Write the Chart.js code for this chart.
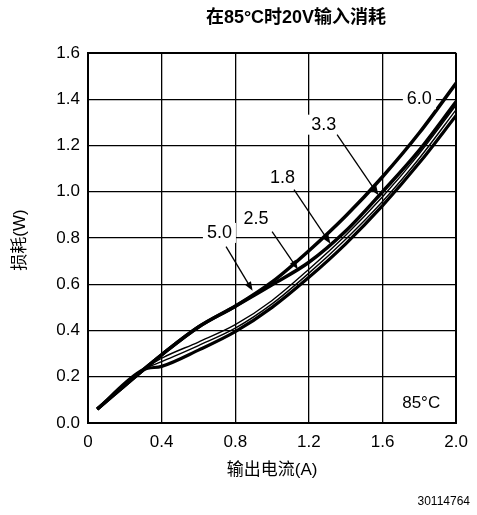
<!DOCTYPE html>
<html>
<head>
<meta charset="utf-8">
<script src="https://cdn.jsdelivr.net/npm/chart.js@4"></script>
<style>
    body { margin: 0; background: #fff; }
    #wrap { width: 477px; height: 515px; position: relative; }
</style>
</head>
<body>
<div id="wrap"><canvas id="lossChart"></canvas></div>
<script>
// --- Data ---
const currentA = [0.05, 0.3, 0.4, 0.6, 0.8, 1.0, 1.2, 1.4, 1.6, 1.8, 2.0];
const loss60 = [0.06, 0.23, 0.295, 0.415, 0.505, 0.61, 0.745, 0.895, 1.065, 1.255, 1.47];
const loss50 = [0.06, 0.23, 0.295, 0.415, 0.505, 0.598, 0.695, 0.83, 1.0, 1.18, 1.39];
const loss33 = [0.06, 0.23, 0.28, 0.35, 0.425, 0.53, 0.665, 0.812, 0.978, 1.165, 1.375];
const loss25 = [0.06, 0.23, 0.265, 0.335, 0.41, 0.515, 0.648, 0.795, 0.958, 1.145, 1.355];
const loss18 = [0.06, 0.23, 0.245, 0.315, 0.395, 0.50, 0.63, 0.775, 0.94, 1.125, 1.33];
const seriesNames = ['6.0', '5.0', '3.3', '2.5', '1.8'];
const xTicks = [0, 0.4, 0.8, 1.2, 1.6, 2.0];
const yTicks = [0, 0.2, 0.4, 0.6, 0.8, 1.0, 1.2, 1.4, 1.6];

const titleText = '在85°C时20V输入消耗';
const xTitle = '输出电流(A)';
const yTitle = '损耗(W)';
const tempNote = '85°C';
const footNote = '30114764';

// callouts: label, text centre, leader start, arrow tip (data units)
const callouts = [
    { text: '6.0', at: [1.80, 1.40] },
    { text: '3.3', at: [1.281, 1.29], from: [1.353, 1.247], tip: [1.578, 0.985] },
    { text: '1.8', at: [1.056, 1.06], from: [1.119, 1.009], tip: [1.317, 0.775] },
    { text: '2.5', at: [0.912, 0.88], from: [1.0, 0.828], tip: [1.14, 0.665] },
    { text: '5.0', at: [0.714, 0.822], from: [0.75, 0.763], tip: [0.894, 0.572] }
];

const LATIN = '"Liberation Sans", Arial, "Noto Sans CJK SC", sans-serif';

function toPoints(ys) {
    return currentA.map((x, i) => ({ x: x, y: ys[i] }));
}

function drawArrow(ctx, x1, y1, x2, y2) {
    const ang = Math.atan2(y2 - y1, x2 - x1);
    const len = 9, half = 3.5;
    ctx.beginPath();
    ctx.moveTo(x1, y1);
    ctx.lineTo(x2 - Math.cos(ang) * len * 0.8, y2 - Math.sin(ang) * len * 0.8);
    ctx.stroke();
    ctx.beginPath();
    ctx.moveTo(x2, y2);
    ctx.lineTo(x2 - Math.cos(ang) * len + Math.sin(ang) * half, y2 - Math.sin(ang) * len - Math.cos(ang) * half);
    ctx.lineTo(x2 - Math.cos(ang) * len - Math.sin(ang) * half, y2 - Math.sin(ang) * len + Math.cos(ang) * half);
    ctx.closePath();
    ctx.fill();
}

const calloutPlugin = {
    id: 'callouts',
    afterDatasetsDraw(chart) {
        const { ctx, scales: { x, y } } = chart;
        ctx.save();
        ctx.font = '18px ' + LATIN;
        ctx.textAlign = 'center';
        ctx.textBaseline = 'middle';
        ctx.strokeStyle = '#000';
        ctx.fillStyle = '#000';
        ctx.lineWidth = 1.3;
        callouts.forEach(c => {
            const px = x.getPixelForValue(c.at[0]);
            const py = y.getPixelForValue(c.at[1]);
            const w = ctx.measureText(c.text).width;
            ctx.fillStyle = '#fff';
            ctx.fillRect(px - w / 2 - 4, py - 10, w + 8, 20);
            ctx.fillStyle = '#000';
            ctx.fillText(c.text, px, py);
            if (c.tip) {
                drawArrow(ctx,
                    x.getPixelForValue(c.from[0]), y.getPixelForValue(c.from[1]),
                    x.getPixelForValue(c.tip[0]), y.getPixelForValue(c.tip[1]));
            }
        });
        ctx.font = '17px ' + LATIN;
        ctx.fillText(tempNote, x.getPixelForValue(1.81), y.getPixelForValue(0.087));
        ctx.restore();
    },
    afterDraw(chart) {
        const { ctx, chartArea } = chart;
        ctx.save();
        ctx.fillStyle = '#000';
        ctx.textBaseline = 'middle';
        ctx.textAlign = 'center';
        ctx.font = 'bold 18px ' + LATIN;
        ctx.fillText(titleText, 296, 18);
        ctx.font = '17px ' + LATIN;
        ctx.fillText(xTitle, (chartArea.left + chartArea.right) / 2, 470);
        ctx.save();
        ctx.translate(20, 240);
        ctx.rotate(-Math.PI / 2);
        ctx.fillText(yTitle, 0, 0);
        ctx.restore();
        ctx.textAlign = 'right';
        ctx.font = '12px ' + LATIN;
        ctx.fillText(footNote, 470, 502);
        ctx.restore();
    }
};

const seriesData = [loss60, loss50, loss33, loss25, loss18];
const seriesWidth = [3.5, 3.5, 1.4, 1.4, 3.2];

const chart = new Chart(document.getElementById('lossChart'), {
    type: 'line',
    data: {
        datasets: seriesNames.map((name, i) => ({
            label: name,
            data: toPoints(seriesData[i]),
            borderColor: '#000',
            borderWidth: seriesWidth[i],
            pointRadius: 0,
            fill: false,
            cubicInterpolationMode: 'monotone'
        }))
    },
    options: {
        responsive: true,
        maintainAspectRatio: false,
        animation: false,
        layout: { padding: { top: 53, right: 18, left: 0, bottom: 0 } },
        plugins: { legend: { display: false }, title: { display: false }, tooltip: { enabled: false } },
        scales: {
            x: {
                type: 'linear',
                min: 0, max: 2,
                afterFit(scale) { scale.height = 92; },
                afterBuildTicks(scale) { scale.ticks = xTicks.map(v => ({ value: v })); },
                border: { display: true, color: '#000', width: 2 },
                grid: {
                    color: '#000',
                    drawTicks: false,
                    lineWidth: c => (c.tick && (c.tick.value === 2 || c.tick.value === 0) ? 2 : 1.3)
                },
                ticks: {
                    padding: 9,
                    color: '#000',
                    font: { size: 17, family: LATIN },
                    callback: v => (v === 0 ? '0' : v.toFixed(1))
                }
            },
            y: {
                min: 0, max: 1.6,
                afterFit(scale) { scale.width = 88; },
                afterBuildTicks(scale) { scale.ticks = yTicks.map(v => ({ value: v })); },
                border: { display: true, color: '#000', width: 2 },
                grid: {
                    color: '#000',
                    drawTicks: false,
                    lineWidth: c => (c.tick && (c.tick.value === 1.6 || c.tick.value === 0) ? 2 : 1.3)
                },
                ticks: {
                    padding: 8,
                    color: '#000',
                    font: { size: 17, family: LATIN },
                    callback: v => v.toFixed(1)
                }
            }
        }
    },
    plugins: [calloutPlugin]
});
</script>
</body>
</html>
